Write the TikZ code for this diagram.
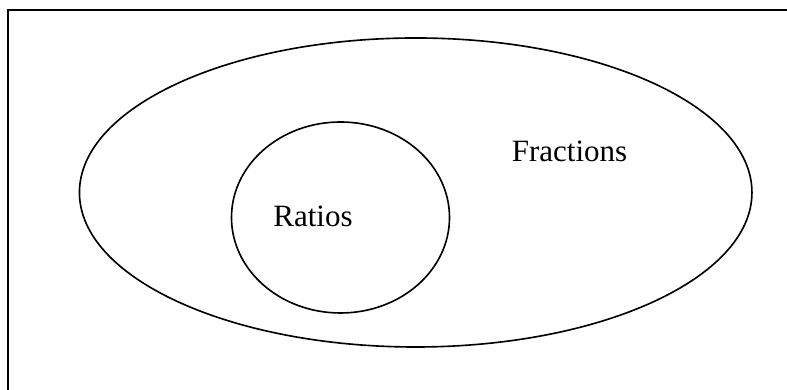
\documentclass[tikz,border=0pt]{standalone}
\usepackage{fontspec}
\setmainfont{Liberation Serif}
\begin{document}
\begin{tikzpicture}[x=0.4pt, y=-0.4pt,
  set/.style={line width=0.65pt},
  frame/.style={line width=0.9pt},
  label/.style={anchor=base,inner sep=0pt,font=\fontsize{12.4}{15}\selectfont}]
\useasboundingbox (0,0) rectangle (787,390);
% Page frame: only the top and left edges show.
\draw[frame] (787,10) -- (8,10) -- (8,390);
% Fractions contain the ratios.
\draw[set] (415.7,192.5) ellipse [x radius=134.5pt, y radius=61.8pt];
\draw[set] (340.5,217.5) ellipse [x radius=43.6pt, y radius=38.2pt];
\node[label] (fractions) at (569.5,161.7) {Fractions};
\node[label] (ratios) at (313,227) {Ratios};
\end{tikzpicture}
\end{document}
